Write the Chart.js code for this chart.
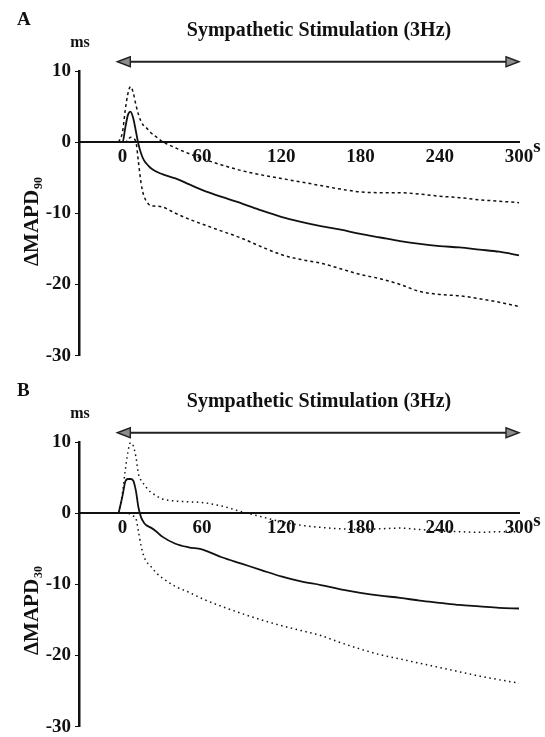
<!DOCTYPE html>
<html>
<head>
<meta charset="utf-8">
<script src="https://cdn.jsdelivr.net/npm/chart.js@4.4.0/dist/chart.umd.min.js"></script>
<style>
  body { margin: 0; background: #fff; overflow: hidden; }
  canvas { position: absolute; left: 0; }
</style>
</head>
<body>
<canvas id="panelA" width="545" height="371" style="top:0"></canvas>
<canvas id="panelB" width="545" height="371" style="top:371px"></canvas>
<script>
// time (s) shared by every series of a panel
const timeA = [-3, 0, 2, 4, 6, 8, 10, 12, 14, 16, 18, 21, 25, 30, 40, 50, 60, 75, 90, 105, 120, 135, 150, 165, 180, 195, 210, 225, 240, 255, 270, 285, 300];
const meanA = [0, 0, 2.0, 3.8, 4.3, 3.4, 1.6, -0.3, -1.6, -2.5, -3.0, -3.6, -4.1, -4.5, -5.1, -5.9, -6.7, -7.7, -8.6, -9.6, -10.5, -11.2, -11.8, -12.3, -12.9, -13.4, -13.9, -14.3, -14.6, -14.8, -15.1, -15.4, -15.9];
const upperA = [0, 1.5, 4.5, 6.8, 7.8, 7.0, 5.3, 3.9, 2.9, 2.3, 2.0, 1.4, 0.8, 0.1, -0.8, -1.6, -2.3, -3.2, -4.0, -4.6, -5.1, -5.6, -6.1, -6.6, -7.0, -7.1, -7.1, -7.3, -7.6, -7.8, -8.1, -8.3, -8.5];
const lowerA = [0, 0, 0, 0.3, 0.7, 0.5, 0.1, -2.8, -5.8, -7.5, -8.3, -8.9, -9.0, -9.1, -10.0, -10.8, -11.5, -12.5, -13.5, -14.7, -15.8, -16.5, -17.0, -17.8, -18.6, -19.2, -20.0, -21.0, -21.4, -21.6, -22.0, -22.5, -23.1];

const timeB = [-3, 0, 2, 4, 6, 8, 10, 12, 14, 16, 18, 21, 25, 30, 40, 50, 60, 75, 90, 105, 120, 135, 150, 165, 180, 195, 210, 225, 240, 255, 270, 285, 300];
const meanB = [0, 2.5, 4.4, 4.8, 4.8, 4.6, 3.2, 0.8, -0.6, -1.3, -1.7, -2.0, -2.5, -3.3, -4.3, -4.8, -5.1, -6.2, -7.1, -8.0, -8.9, -9.6, -10.1, -10.7, -11.2, -11.6, -11.9, -12.3, -12.6, -12.9, -13.1, -13.3, -13.4];
const upperB = [0, 3.0, 6.0, 8.6, 9.9, 9.5, 8.0, 5.5, 4.6, 4.1, 3.6, 3.0, 2.5, 2.0, 1.7, 1.6, 1.5, 1.0, 0.2, -0.5, -1.2, -1.7, -2.0, -2.2, -2.3, -2.2, -2.1, -2.3, -2.5, -2.6, -2.7, -2.6, -2.6];
const lowerB = [0, 0, 0, 0, -0.2, -0.4, -0.7, -2.6, -4.6, -6.0, -6.8, -7.4, -8.3, -9.1, -10.3, -11.1, -12.0, -13.1, -14.1, -15.0, -15.8, -16.5, -17.2, -18.2, -19.1, -19.9, -20.5, -21.1, -21.7, -22.3, -22.9, -23.4, -23.9];

const xTicks = [0, 60, 120, 180, 240, 300];
const yTicks = [-30, -20, -10, 0, 10];
const xRange = [-33, 300];
const yRange = [-30, 10];

// stimulation arrow: span in s and height in ms
const stimSpan = [-4, 300];
const stimLevel = 11.3;

const titleText = "Sympathetic Stimulation (3Hz)";
const serif = "'Liberation Serif', 'Times New Roman', serif";

const decorations = {
  id: "decorations",
  afterDraw(chart, args, opts) {
    const { ctx } = chart;
    const x = chart.scales.x;
    const y = chart.scales.y;
    ctx.save();
    ctx.fillStyle = "#111";
    ctx.textBaseline = "middle";

    // panel letter, units
    ctx.textAlign = "left";
    ctx.font = "bold 19px " + serif;
    ctx.fillText(opts.letter, 17, 20);
    ctx.font = "bold 16px " + serif;
    ctx.textAlign = "center";
    ctx.fillText("ms", 80, 43);
    ctx.font = "bold 19px " + serif;
    ctx.fillText("s", 537, opts.sY);

    // title
    ctx.font = "bold 20px " + serif;
    ctx.fillText(titleText, 319, 31);

    // arrow
    const ay = y.getPixelForValue(stimLevel);
    const ax0 = x.getPixelForValue(stimSpan[0]);
    const ax1 = x.getPixelForValue(stimSpan[1]);
    ctx.strokeStyle = "#222";
    ctx.lineWidth = 2.2;
    ctx.beginPath();
    ctx.moveTo(ax0 + 10, ay);
    ctx.lineTo(ax1 - 10, ay);
    ctx.stroke();
    ctx.fillStyle = "#8c8c8c";
    ctx.lineWidth = 1.4;
    [[ax0, 1], [ax1, -1]].forEach(([tip, dir]) => {
      ctx.beginPath();
      ctx.moveTo(tip, ay);
      ctx.lineTo(tip + dir * 13, ay - 5);
      ctx.lineTo(tip + dir * 13, ay + 5);
      ctx.closePath();
      ctx.fill();
      ctx.stroke();
    });

    // rotated y title with subscript
    ctx.fillStyle = "#111";
    ctx.translate(33, opts.titleY);
    ctx.rotate(-Math.PI / 2);
    ctx.textAlign = "left";
    ctx.font = "bold 21px " + serif;
    const main = "\u0394MAPD";
    const w1 = ctx.measureText(main).width;
    ctx.font = "bold 12px " + serif;
    const w2 = ctx.measureText(opts.sub).width;
    const start = -(w1 + w2) / 2;
    ctx.font = "bold 21px " + serif;
    ctx.fillText(main, start, 0);
    ctx.font = "bold 12px " + serif;
    ctx.fillText(opts.sub, start + w1 + 1, 6);
    ctx.restore();
  }
};

function lineSet(times, values, dash, width) {
  return {
    data: times.map((t, i) => ({ x: t, y: values[i] })),
    borderColor: "#111",
    borderWidth: width,
    borderDash: dash,
    pointRadius: 0,
    cubicInterpolationMode: "monotone",
    clip: 6
  };
}

function makePanel(id, times, mean, upper, lower, dash, deco) {
  return new Chart(document.getElementById(id), {
    type: "line",
    data: {
      datasets: [
        lineSet(times, upper, dash, 1.5),
        lineSet(times, lower, dash, 1.5),
        lineSet(times, mean, [], 1.8)
      ]
    },
    options: {
      responsive: false,
      animation: false,
      devicePixelRatio: 1,
      layout: { padding: { top: 71, right: 26, bottom: 13, left: 0 } },
      plugins: { legend: { display: false }, tooltip: { enabled: false }, decorations: deco },
      scales: {
        x: {
          type: "linear",
          position: { y: 0 },
          min: xRange[0],
          max: xRange[1],
          afterBuildTicks: (s) => { s.ticks = xTicks.map(v => ({ value: v })); },
          grid: { drawOnChartArea: false, drawTicks: false },
          border: { color: "#111", width: 2 },
          ticks: { color: "#111", padding: 4, maxRotation: 0, autoSkip: false, font: { family: serif, size: 19, weight: "bold" } }
        },
        y: {
          min: yRange[0],
          max: yRange[1],
          afterBuildTicks: (s) => { s.ticks = yTicks.map(v => ({ value: v })); },
          afterFit: (s) => { s.width = 79; },
          grid: { drawOnChartArea: false, tickLength: 4, color: "#111" },
          border: { color: "#111", width: 2.5 },
          ticks: { color: "#111", padding: 4, font: { family: serif, size: 19, weight: "bold" } }
        }
      }
    },
    plugins: [decorations]
  });
}

makePanel("panelA", timeA, meanA, upperA, lowerA, [3, 3], { letter: "A", sub: "90", titleY: 222, sY: 147 });
makePanel("panelB", timeB, meanB, upperB, lowerB, [1.5, 3.5], { letter: "B", sub: "30", titleY: 240, sY: 150 });
</script>
</body>
</html>
